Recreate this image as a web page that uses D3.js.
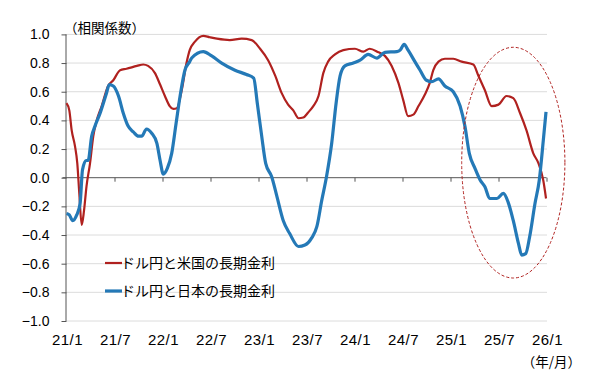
<!DOCTYPE html>
<html><head><meta charset="utf-8">
<script src="https://cdn.jsdelivr.net/npm/d3@7"></script>
<style>
html,body{margin:0;padding:0;background:#fff;}
svg{display:block;}
</style></head>
<body>
<svg id="chart" width="600" height="379"></svg>
<script>
// ---- data (months since 2021/1, correlation values) ----
const usMonths = [0,0.35,0.65,1.06,1.35,1.6,1.9,2.19,2.5,2.94,3.35,3.78,4.4,5.2,5.85,6.7,7.5,8.8,9.6,10.2,11.06,11.7,12.3,12.9,13.35,13.8,14.4,15.0,15.4,16.06,17.1,17.9,18.8,20.4,21.9,23.15,24.2,25.2,26.1,26.9,27.7,28.35,29.0,29.6,30.2,30.85,31.5,32.1,32.7,33.56,34.6,36.06,37.1,37.9,39.0,39.8,40.65,41.5,42.1,42.7,43.35,44.0,44.8,45.4,45.85,46.5,47.3,48.35,49.4,50.85,51.5,52.3,53.15,54.0,55.0,55.85,56.7,57.5,58.35,59.0,59.6,59.94];
const usValues = [0.52,0.47,0.33,0.22,0.10,-0.11,-0.33,-0.23,-0.06,0.10,0.29,0.40,0.50,0.64,0.68,0.75,0.76,0.78,0.79,0.78,0.73,0.65,0.57,0.50,0.48,0.485,0.61,0.80,0.89,0.95,0.99,0.98,0.97,0.96,0.97,0.96,0.90,0.82,0.71,0.59,0.51,0.47,0.415,0.42,0.455,0.50,0.57,0.73,0.81,0.86,0.89,0.90,0.88,0.90,0.875,0.85,0.78,0.66,0.54,0.43,0.44,0.50,0.58,0.66,0.75,0.81,0.83,0.83,0.81,0.79,0.71,0.61,0.50,0.51,0.57,0.555,0.45,0.33,0.17,0.10,-0.02,-0.145];

const jpMonths = [0,0.35,0.78,1.28,1.7,2.0,2.44,2.7,3.15,3.56,4.2,5.0,5.35,5.85,6.5,7.1,7.7,8.35,9.0,9.4,10.0,10.65,11.3,11.7,12.1,12.6,13.15,13.7,14.2,14.8,15.4,15.65,17.1,18.15,19.4,21.06,22.5,23.4,23.85,24.4,24.9,25.65,26.3,27.1,27.9,29.0,29.8,30.65,31.3,31.9,32.5,33.15,33.7,34.2,34.8,35.85,36.7,37.7,38.8,39.8,41.3,41.7,42.2,42.7,43.55,44.2,45.0,45.65,46.5,47.3,48.35,49.2,49.8,50.35,51.06,51.7,52.3,52.9,53.8,54.6,55.2,55.85,56.5,56.9,57.4,57.9,58.56,59.1,59.6,59.94];
const jpValues = [-0.25,-0.26,-0.30,-0.26,-0.18,0.055,0.12,0.12,0.29,0.36,0.45,0.59,0.65,0.64,0.57,0.45,0.36,0.32,0.29,0.29,0.34,0.31,0.24,0.12,0.025,0.065,0.17,0.38,0.57,0.75,0.81,0.835,0.88,0.85,0.80,0.75,0.72,0.695,0.52,0.29,0.10,0.007,-0.13,-0.30,-0.39,-0.48,-0.47,-0.42,-0.34,-0.16,0.007,0.24,0.52,0.71,0.78,0.80,0.82,0.86,0.835,0.875,0.88,0.89,0.93,0.89,0.81,0.75,0.68,0.67,0.69,0.64,0.60,0.50,0.36,0.17,0.065,-0.016,-0.063,-0.145,-0.145,-0.11,-0.17,-0.30,-0.46,-0.54,-0.53,-0.41,-0.18,-0.016,0.26,0.46];

const xTickMonths = [0,6,12,18,24,30,36,42,48,54,60];
const xTickLabels = ["21/1","21/7","22/1","22/7","23/1","23/7","24/1","24/7","25/1","25/7","26/1"];
const yTicks = [1.0,0.8,0.6,0.4,0.2,0.0,-0.2,-0.4,-0.6,-0.8,-1.0];
const seriesNames = ["ドル円と米国の長期金利","ドル円と日本の長期金利"];
const seriesColors = ["#B0211F","#2479B7"];
const yTitle = "（相関係数）";
const xTitle = "（年/月）";
// highlighted period (months) and value range for the ellipse
const highlightMonths = [49.4, 62.3];
const highlightValues = [0.91, -0.70];

// ---- layout ----
const svg = d3.select("#chart");
const pLeft = 66.5, pRight = 546.5, pTop = 34.4, pBottom = 321;
const x = d3.scaleLinear().domain([0,60]).range([pLeft,pRight]);
const y = d3.scaleLinear().domain([-1,1]).range([pBottom,pTop]);
const numFont = "'Liberation Sans', Arial, sans-serif";
const jpFont = "'Noto Sans CJK JP', sans-serif";

// gridlines
svg.append("g").selectAll("line").data(yTicks.filter(d=>d!==0)).join("line")
  .attr("x1",pLeft).attr("x2",pRight+0.5)
  .attr("y1",d=>y(d)).attr("y2",d=>y(d))
  .attr("stroke","#dcdcdc").attr("stroke-width",1);

// y axis
const yAxis = d3.axisLeft(y).tickValues(yTicks).tickSize(5).tickPadding(12)
  .tickFormat(d => (d<0?"\u2212":"") + Math.abs(d).toFixed(1));
const gy = svg.append("g").attr("transform",`translate(${pLeft},0)`).call(yAxis);
gy.select(".domain").attr("stroke","#555").attr("d",`M-0.5,${pTop}V${pBottom}`);
gy.selectAll(".tick line").attr("stroke","#555");
gy.selectAll(".tick text").attr("font-family",numFont).attr("font-size",14).attr("fill","#000");

// zero axis
const xAxis = d3.axisBottom(x).tickValues(xTickMonths.slice(1)).tickSize(4).tickFormat("");
const gx = svg.append("g").attr("transform",`translate(0,${y(0)})`).call(xAxis);
gx.select(".domain").attr("stroke","#555").attr("d",`M${pLeft-4},0H${pRight}`);
gx.selectAll(".tick line").attr("stroke","#555");

// x labels
svg.append("g").selectAll("text").data(xTickMonths).join("text")
  .attr("x",d=>x(d)+1).attr("y",345)
  .attr("text-anchor","middle").attr("font-family",numFont).attr("font-size",15)
  .attr("letter-spacing","0.5px").attr("fill","#000")
  .text((d,i)=>xTickLabels[i]);

// titles
svg.append("text").attr("x",64).attr("y",33).attr("font-family",jpFont).attr("font-size",13.5)
  .attr("fill","#000").text(yTitle);
svg.append("text").attr("x",581).attr("y",367).attr("text-anchor","end").attr("font-family",jpFont)
  .attr("font-size",13.5).attr("fill","#000").text(xTitle);

// lines
const line = d3.line().x(d=>x(d[0])).y(d=>y(d[1])).curve(d3.curveMonotoneX);
const usData = usMonths.map((m,i)=>[m,usValues[i]]);
const jpData = jpMonths.map((m,i)=>[m,jpValues[i]]);
svg.append("path").datum(usData).attr("d",line).attr("fill","none")
  .attr("stroke",seriesColors[0]).attr("stroke-width",2.2).attr("stroke-linejoin","round");
svg.append("path").datum(jpData).attr("d",line).attr("fill","none")
  .attr("stroke",seriesColors[1]).attr("stroke-width",3.2).attr("stroke-linejoin","round");

// highlight ellipse
const cx = (x(highlightMonths[0])+x(highlightMonths[1]))/2;
const cy = (y(highlightValues[0])+y(highlightValues[1]))/2;
svg.append("ellipse").attr("cx",cx).attr("cy",cy)
  .attr("rx",(x(highlightMonths[1])-x(highlightMonths[0]))/2)
  .attr("ry",(y(highlightValues[1])-y(highlightValues[0]))/2)
  .attr("fill","none").attr("stroke","#B0211F").attr("stroke-width",1)
  .attr("stroke-dasharray","3,2");

// legend
const lg = svg.append("g").selectAll("g").data(seriesNames).join("g")
  .attr("transform",(d,i)=>`translate(105,${263+i*28})`);
lg.append("line").attr("x1",0).attr("x2",17).attr("y1",0).attr("y2",0)
  .attr("stroke",(d,i)=>seriesColors[i]).attr("stroke-width",(d,i)=>i?3.2:2.2);
lg.append("text").attr("x",16).attr("y",5).attr("font-family",jpFont).attr("font-size",14)
  .attr("fill","#000").text(d=>d);
</script>
</body></html>
